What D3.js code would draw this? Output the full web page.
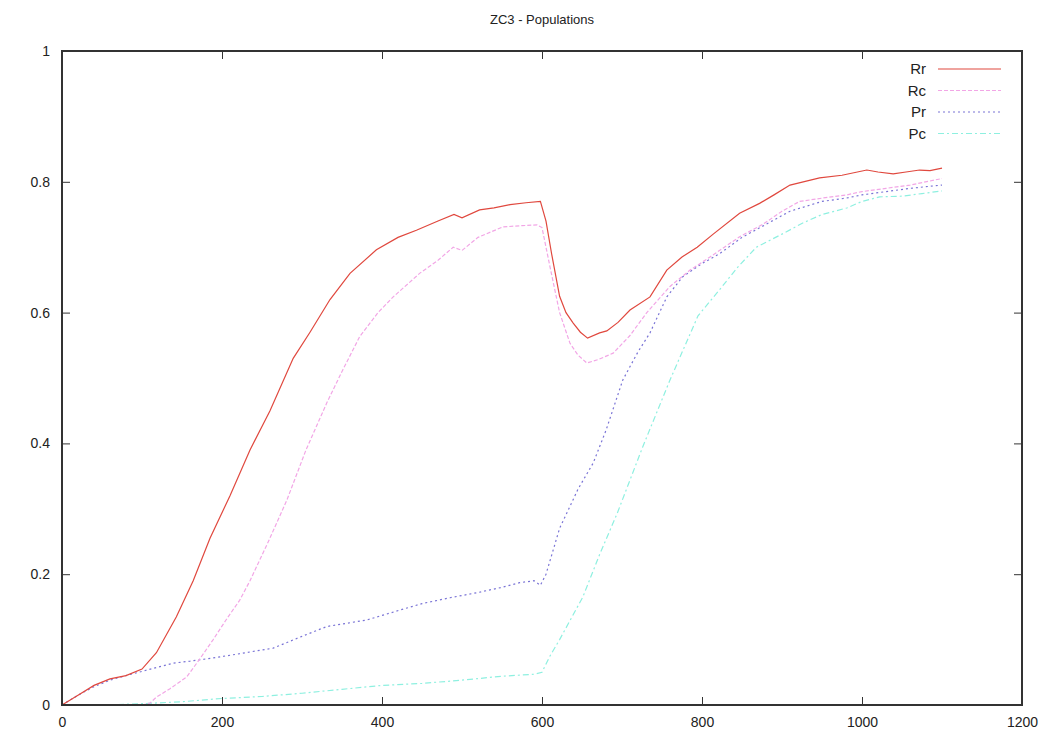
<!DOCTYPE html>
<html>
<head>
<meta charset="utf-8">
<script src="https://cdn.jsdelivr.net/npm/d3@7"></script>
<style>
  body { margin: 0; background: #fff; }
  svg { font-family: "Liberation Sans", Arial, sans-serif; }
  .tick text { font-size: 14px; fill: #222; }
  .tick line { stroke: #333; }
  .domain { display: none; }
</style>
</head>
<body>
<svg class="chart"></svg>
<script>
// Canvas size and plot box (gnuplot style)
var imageWidth = 1061;
var imageHeight = 738;
var margin = { top: 51, right: 39, bottom: 33, left: 62 };
var plotWidth = imageWidth - margin.left - margin.right;
var plotHeight = imageHeight - margin.top - margin.bottom;

// Tick values
var xTicks = [0, 200, 400, 600, 800, 1000, 1200];
var yTicks = [0, 0.2, 0.4, 0.6, 0.8, 1];

// Series names in legend order
var seriesNames = ["Rr", "Rc", "Pr", "Pc"];

// Values, [time, population]
var rrData = [[0,0],[20,0.015],[40,0.03],[60,0.04],[80,0.045],[100,0.055],[118,0.08],[143,0.135],
  [164,0.19],[185,0.255],[210,0.32],[235,0.39],[260,0.45],[289,0.53],[310,0.57],[335,0.62],
  [360,0.66],[393,0.696],[420,0.715],[443,0.726],[470,0.74],[490,0.75],[500,0.745],[522,0.757],
  [540,0.76],[560,0.765],[580,0.768],[598,0.77],[605,0.74],[612,0.69],[622,0.625],[630,0.6],
  [639,0.584],[648,0.57],[657,0.561],[672,0.569],[681,0.572],[695,0.585],[710,0.604],[735,0.624],
  [756,0.665],[775,0.685],[794,0.7],[814,0.72],[847,0.752],[872,0.767],[890,0.78],[910,0.795],
  [947,0.806],[975,0.81],[1006,0.818],[1020,0.815],[1039,0.812],[1055,0.815],[1072,0.818],
  [1085,0.817],[1100,0.821]];

var rcData = [[100,0],[110,0.003],[118,0.012],[135,0.025],[156,0.043],[172,0.07],[189,0.1],
  [205,0.13],[222,0.16],[235,0.19],[258,0.25],[281,0.313],[305,0.39],[331,0.462],[350,0.51],
  [372,0.563],[395,0.6],[414,0.624],[447,0.66],[470,0.68],[489,0.7],[500,0.695],[520,0.715],
  [551,0.731],[575,0.733],[594,0.734],[600,0.73],[610,0.67],[622,0.6],[635,0.553],[645,0.535],
  [656,0.523],[670,0.528],[689,0.538],[710,0.565],[731,0.6],[760,0.64],[785,0.665],[810,0.685],
  [847,0.716],[876,0.735],[900,0.755],[922,0.77],[950,0.775],[981,0.78],[1000,0.785],
  [1030,0.79],[1060,0.795],[1100,0.805]];

var prData = [[0,0],[20,0.015],[40,0.028],[60,0.038],[80,0.045],[102,0.052],[120,0.058],
  [139,0.064],[160,0.067],[189,0.072],[220,0.078],[264,0.087],[300,0.105],[331,0.12],[381,0.13],
  [422,0.145],[450,0.155],[485,0.164],[520,0.172],[550,0.18],[572,0.187],[590,0.19],[598,0.183],
  [605,0.2],[622,0.27],[645,0.33],[664,0.37],[680,0.42],[701,0.497],[720,0.54],[735,0.569],
  [756,0.624],[776,0.655],[800,0.675],[822,0.69],[850,0.715],[880,0.735],[910,0.755],[950,0.77],
  [980,0.775],[1000,0.78],[1030,0.785],[1060,0.79],[1100,0.795]];

var pcData = [[0,0],[50,0],[100,0.002],[150,0.005],[200,0.01],[250,0.013],[300,0.018],
  [350,0.024],[400,0.03],[450,0.033],[500,0.038],[550,0.044],[590,0.047],[600,0.05],[610,0.075],
  [622,0.1],[651,0.165],[672,0.23],[694,0.293],[726,0.395],[760,0.497],[795,0.595],[822,0.635],
  [845,0.67],[868,0.7],[900,0.72],[926,0.737],[950,0.75],[981,0.76],[1000,0.77],[1022,0.777],
  [1050,0.778],[1075,0.782],[1100,0.786]];

// Line styles per series
var styles = {
  Rr: { color: "#e0483e", dash: null, width: 1.2 },
  Rc: { color: "#f2a6e6", dash: "4,2", width: 1.2 },
  Pr: { color: "#7a74d6", dash: "2,3", width: 1.2 },
  Pc: { color: "#8ef0e0", dash: "6,3,2,3", width: 1.2 }
};
var seriesData = { Rr: rrData, Rc: rcData, Pr: prData, Pc: pcData };

// Scales
var xScale = d3.scaleLinear().domain([0, 1200]).range([0, plotWidth]);
var yScale = d3.scaleLinear().domain([0, 1]).range([plotHeight, 0]);

var canvas = d3.select(".chart")
    .attr("width", imageWidth)
    .attr("height", imageHeight);

var chart = canvas.append("g")
    .attr("transform", "translate(" + margin.left + "," + margin.top + ")");

// Title
canvas.append("text")
    .attr("x", margin.left + plotWidth / 2)
    .attr("y", 24)
    .attr("text-anchor", "middle")
    .style("font-size", "13px")
    .style("fill", "#222")
    .text("ZC3 - Populations");

// Axes with inward ticks, mirrored on top and right
chart.append("g")
    .attr("transform", "translate(0," + plotHeight + ")")
    .call(d3.axisBottom(xScale).tickValues(xTicks).tickSize(-8).tickPadding(12)
        .tickFormat(d3.format("d")))
    .call(function(g) { g.selectAll("text").attr("dy", "0.71em"); });

chart.append("g")
    .call(d3.axisTop(xScale).tickValues(xTicks).tickSize(-8).tickFormat(""));

chart.append("g")
    .call(d3.axisLeft(yScale).tickValues(yTicks).tickSize(-8).tickPadding(12)
        .tickFormat(function(d) { return d === 0 || d === 1 ? d3.format("d")(d) : d3.format(".1f")(d); }));

chart.append("g")
    .attr("transform", "translate(" + plotWidth + ",0)")
    .call(d3.axisRight(yScale).tickValues(yTicks).tickSize(-8).tickFormat(""));

// Lines
var line = d3.line()
    .x(function(d) { return xScale(d[0]); })
    .y(function(d) { return yScale(d[1]); });

seriesNames.slice().reverse().forEach(function(name) {
    var s = styles[name];
    chart.append("path")
        .datum(seriesData[name])
        .attr("fill", "none")
        .attr("stroke", s.color)
        .attr("stroke-width", s.width)
        .attr("stroke-dasharray", s.dash)
        .attr("d", line);
});

// Frame
chart.append("rect")
    .attr("width", plotWidth)
    .attr("height", plotHeight)
    .attr("fill", "none")
    .attr("stroke", "#333")
    .attr("stroke-width", 2);

// Legend
var legend = chart.append("g")
    .attr("transform", "translate(" + (926 - margin.left) + "," + (69 - margin.top) + ")");

seriesNames.forEach(function(name, i) {
    var s = styles[name];
    var row = legend.append("g").attr("transform", "translate(0," + (i * 21.5) + ")");
    row.append("text")
        .attr("x", 0)
        .attr("y", 0)
        .attr("dy", "0.35em")
        .attr("text-anchor", "end")
        .style("font-size", "15px")
        .style("fill", "#222")
        .text(name);
    row.append("line")
        .attr("x1", 12)
        .attr("x2", 75)
        .attr("stroke", s.color)
        .attr("stroke-width", s.width)
        .attr("stroke-dasharray", s.dash);
});
</script>
</body>
</html>
